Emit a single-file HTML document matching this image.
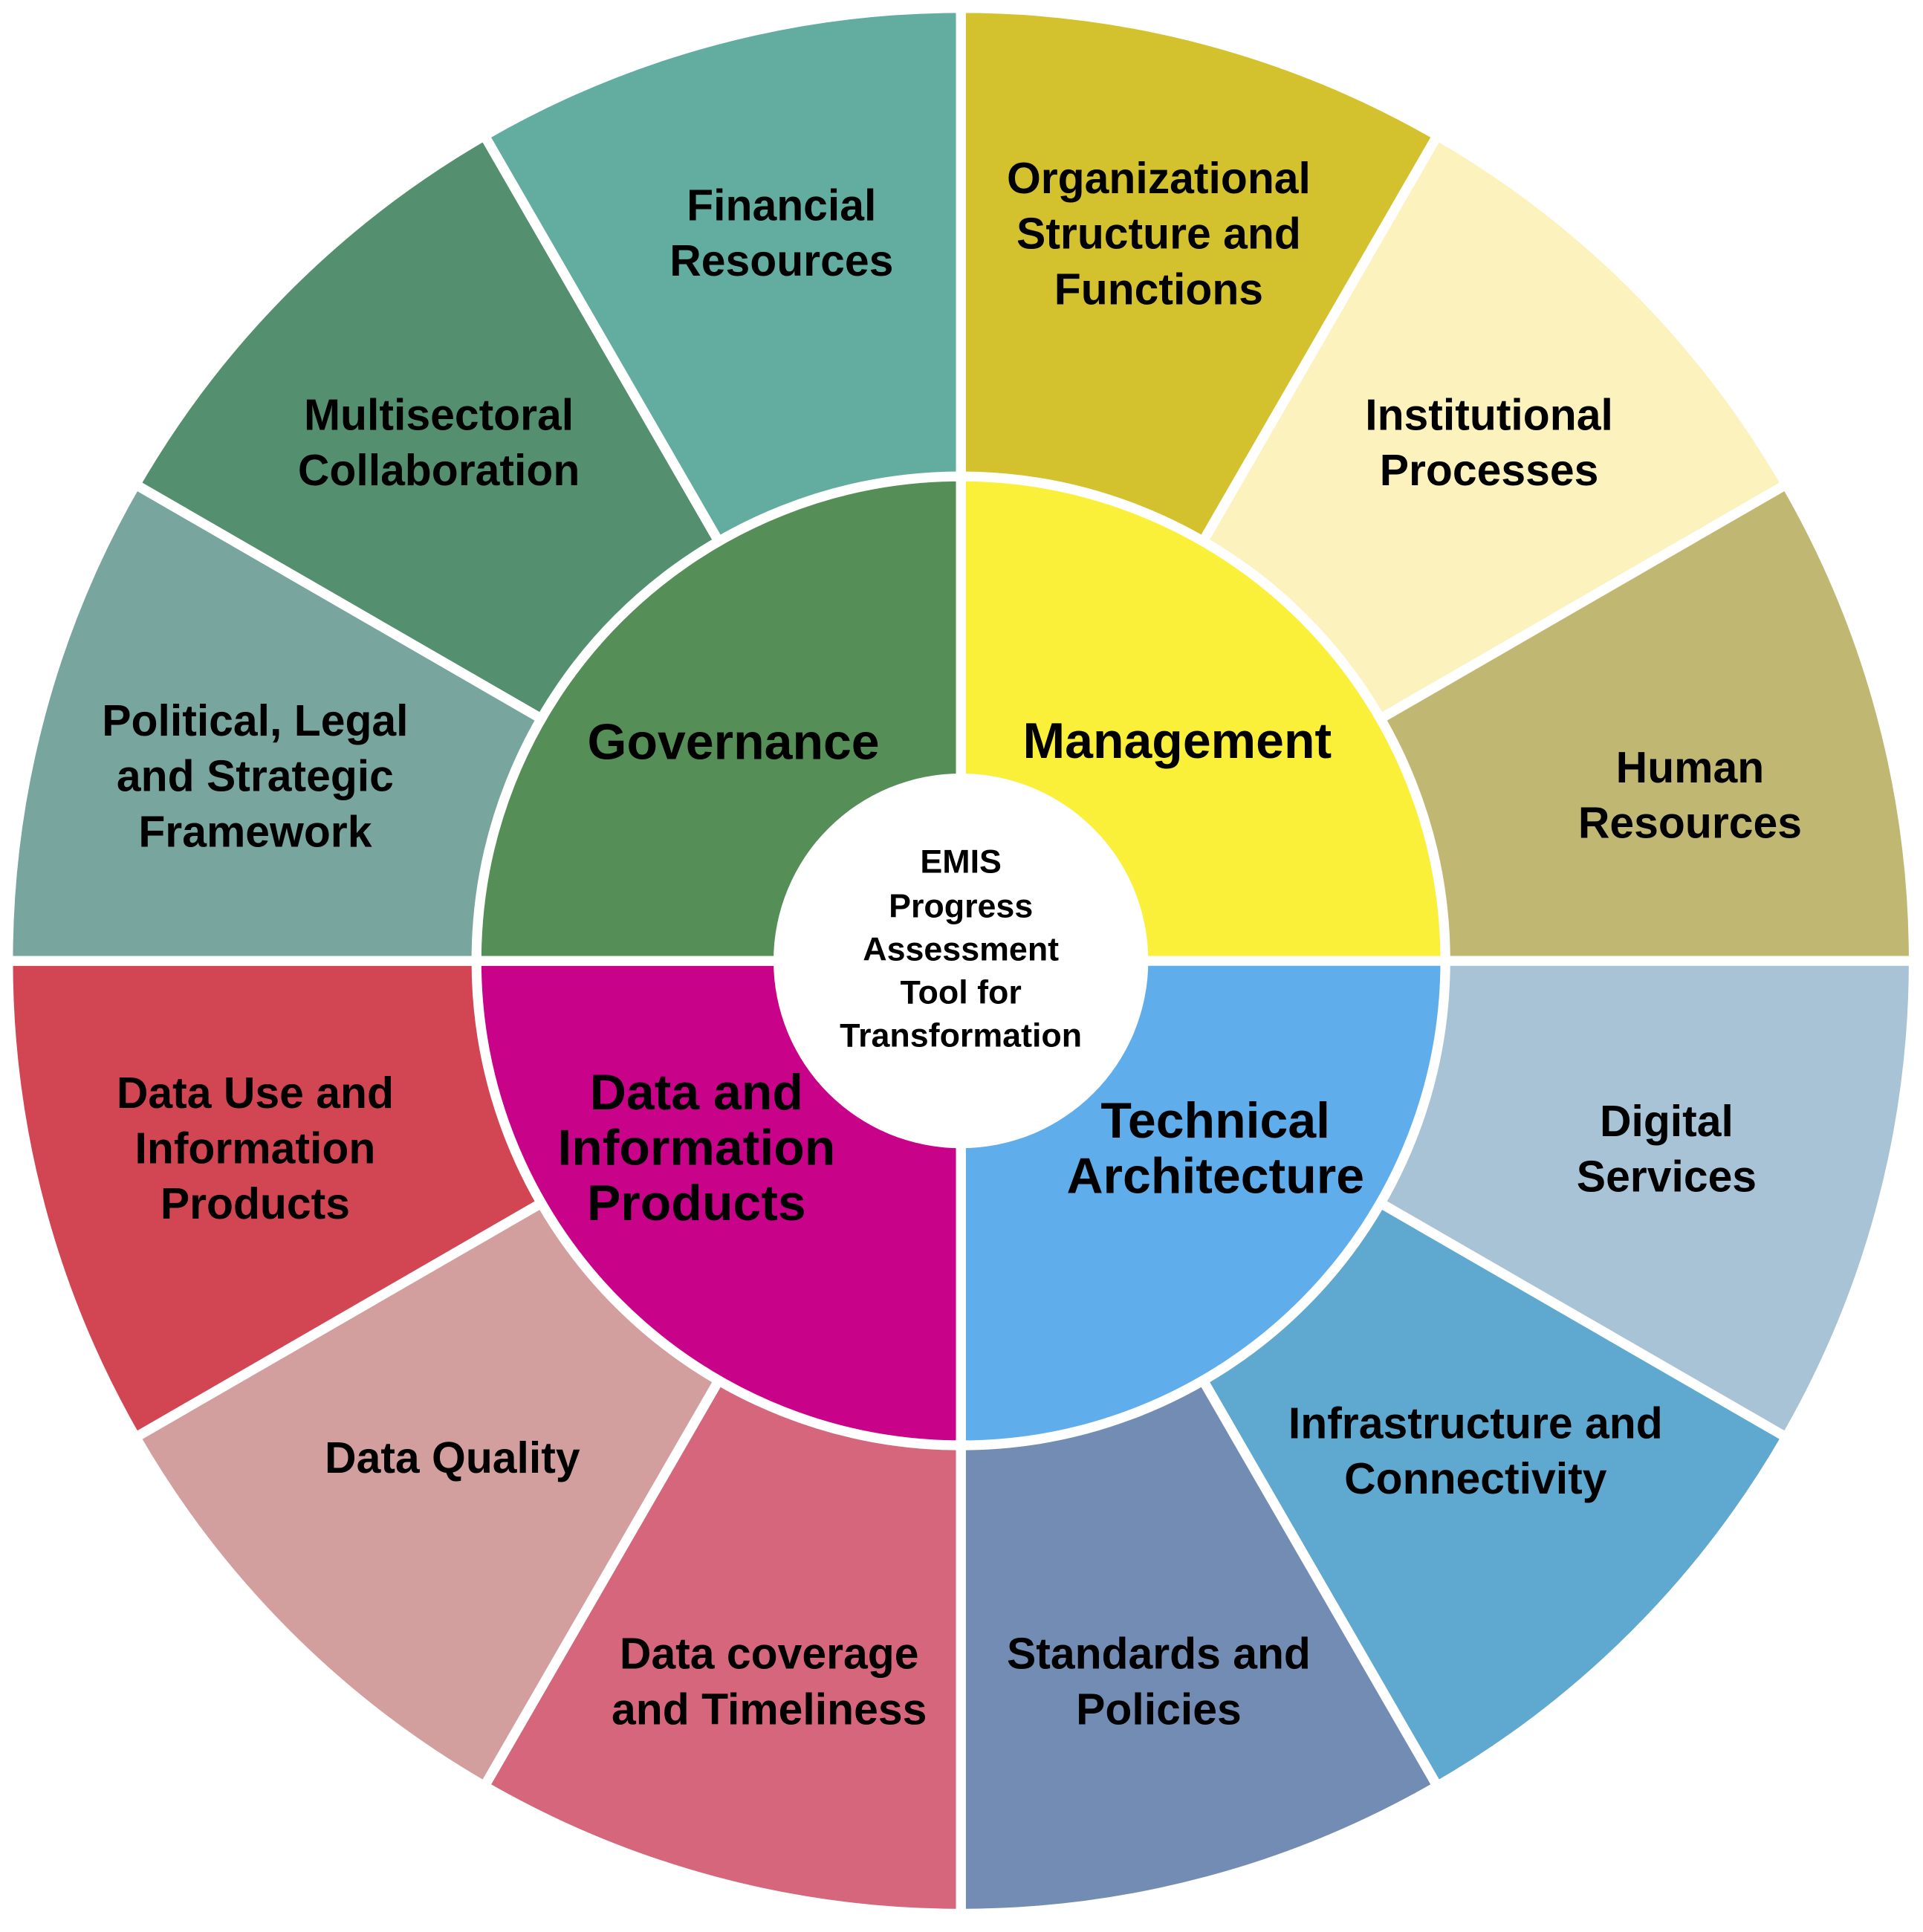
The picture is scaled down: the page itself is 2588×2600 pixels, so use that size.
<!DOCTYPE html>
<html><head><meta charset="utf-8"><style>
html,body{margin:0;padding:0;background:#fff;}
svg{display:block;}
text{font-family:"Liberation Sans",Arial,sans-serif;font-weight:bold;fill:#000;text-anchor:middle;dominant-baseline:central;}
.o{font-size:35.5px;}
.q{font-size:41px;}
.c{font-size:27px;}
</style></head><body>
<svg width="2588" height="2600" viewBox="0 0 1560 1567.3" preserveAspectRatio="none" xmlns="http://www.w3.org/2000/svg">
<g stroke="#fff" stroke-width="8" stroke-linejoin="miter">
<path d="M779.5 779.5 L779.5 6.5 A773 773 0 0 1 1166 110Z" fill="#D4C12E"/>
<path d="M779.5 779.5 L1166 110 A773 773 0 0 1 1449 393Z" fill="#FBF2BD"/>
<path d="M779.5 779.5 L1449 393 A773 773 0 0 1 1552.5 779.5Z" fill="#C0B872"/>
<path d="M779.5 779.5 L1552.5 779.5 A773 773 0 0 1 1449 1166Z" fill="#A7C3D5"/>
<path d="M779.5 779.5 L1449 1166 A773 773 0 0 1 1166 1449Z" fill="#5FA9D0"/>
<path d="M779.5 779.5 L1166 1449 A773 773 0 0 1 779.5 1552.5Z" fill="#738CB3"/>
<path d="M779.5 779.5 L779.5 1552.5 A773 773 0 0 1 393 1449Z" fill="#D5667B"/>
<path d="M779.5 779.5 L393 1449 A773 773 0 0 1 110 1166Z" fill="#D29E9E"/>
<path d="M779.5 779.5 L110 1166 A773 773 0 0 1 6.5 779.5Z" fill="#D24653"/>
<path d="M779.5 779.5 L6.5 779.5 A773 773 0 0 1 110 393Z" fill="#78A59E"/>
<path d="M779.5 779.5 L110 393 A773 773 0 0 1 393 110Z" fill="#548F6F"/>
<path d="M779.5 779.5 L393 110 A773 773 0 0 1 779.5 6.5Z" fill="#62ADA0"/>
<path d="M779.5 779.5 L779.5 386.5 A393 393 0 0 1 1172.5 779.5Z" fill="#FAF03A"/>
<path d="M779.5 779.5 L1172.5 779.5 A393 393 0 0 1 779.5 1172.5Z" fill="#5FADEA"/>
<path d="M779.5 779.5 L779.5 1172.5 A393 393 0 0 1 386.5 779.5Z" fill="#C8038A"/>
<path d="M779.5 779.5 L386.5 779.5 A393 393 0 0 1 779.5 386.5Z" fill="#558F57"/>
</g>
<circle cx="779.5" cy="779.5" r="152" fill="#fff"/>
<g>
<text class="o" x="634" y="167">Financial</text><text class="o" x="634" y="212">Resources</text>
<text class="o" x="940" y="145">Organizational</text><text class="o" x="940" y="190">Structure and</text><text class="o" x="940" y="235">Functions</text>
<text class="o" x="1208" y="337">Institutional</text><text class="o" x="1208" y="382">Processes</text>
<text class="o" x="1371" y="623">Human</text><text class="o" x="1371" y="668">Resources</text>
<text class="o" x="1352" y="910">Digital</text><text class="o" x="1352" y="955">Services</text>
<text class="o" x="1197" y="1155">Infrastructure and</text><text class="o" x="1197" y="1200">Connectivity</text>
<text class="o" x="940" y="1342">Standards and</text><text class="o" x="940" y="1387">Policies</text>
<text class="o" x="624" y="1342">Data coverage</text><text class="o" x="624" y="1387">and Timeliness</text>
<text class="o" x="367" y="1183">Data Quality</text>
<text class="o" x="207" y="887">Data Use and</text><text class="o" x="207" y="932">Information</text><text class="o" x="207" y="977">Products</text>
<text class="o" x="207" y="585">Political, Legal</text><text class="o" x="207" y="630">and Strategic</text><text class="o" x="207" y="675">Framework</text>
<text class="o" x="356" y="337">Multisectoral</text><text class="o" x="356" y="382">Collaboration</text>
</g>
<text class="q" x="595" y="602">Governance</text>
<text class="q" x="955" y="601">Management</text>
<text class="q" x="986" y="909">Technical</text><text class="q" x="986" y="954">Architecture</text>
<text class="q" x="565" y="886">Data and</text><text class="q" x="565" y="931">Information</text><text class="q" x="565" y="976">Products</text>
<text class="c" x="779.5" y="699">EMIS</text>
<text class="c" x="779.5" y="735">Progress</text>
<text class="c" x="779.5" y="770">Assessment</text>
<text class="c" x="779.5" y="805">Tool for</text>
<text class="c" x="779.5" y="840">Transformation</text>
</svg>
</body></html>
